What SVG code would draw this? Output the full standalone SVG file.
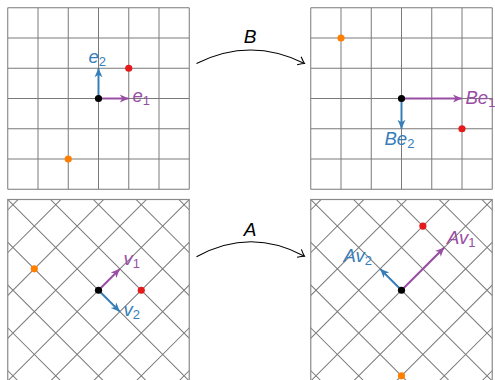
<svg xmlns="http://www.w3.org/2000/svg" width="495" height="380" viewBox="0 0 495 380">
<style>
.grid{fill:none;stroke:#7a7a7a;stroke-width:1}
.frame{fill:none;stroke:#8a8a8a;stroke-width:1.2}
.lbl{font-family:"Liberation Sans","DejaVu Sans",sans-serif;font-style:italic;font-size:18.5px}
.sub{font-size:13px;font-style:normal}
.map{font-family:"Liberation Sans","DejaVu Sans",sans-serif;font-style:italic;font-size:19px;fill:#000}
.pur{fill:#984ea3}.blu{fill:#377eb8}
.vp{stroke:#984ea3;stroke-width:2;fill:none}
.vb{stroke:#377eb8;stroke-width:2;fill:none}
.conn{stroke:#000;stroke-width:1.1;fill:none}
</style>
<defs>
<marker id="hp" markerUnits="userSpaceOnUse" markerWidth="12" markerHeight="12" viewBox="-10 -6 12 12" refX="0" refY="0" orient="auto"><path d="M0,0 L-9,-4 L-6.5,0 L-9,4 Z" fill="#984ea3"/></marker>
<marker id="hb" markerUnits="userSpaceOnUse" markerWidth="12" markerHeight="12" viewBox="-10 -6 12 12" refX="0" refY="0" orient="auto"><path d="M0,0 L-9,-4 L-6.5,0 L-9,4 Z" fill="#377eb8"/></marker>
<marker id="ht" markerUnits="userSpaceOnUse" markerWidth="12" markerHeight="12" viewBox="-8 -6 10 12" refX="0" refY="0" orient="auto"><path d="M-6,-4.5 Q-2,-1 0,0 Q-2,1 -6,4.5" fill="none" stroke="#000" stroke-width="1.1"/></marker>
<clipPath id="cbl"><rect x="7.75" y="199.5" width="181.5" height="181.5"/></clipPath>
<clipPath id="cbr"><rect x="310.75" y="199.5" width="181.5" height="181.5"/></clipPath>
</defs>

<g id="panel-e">
<path class="grid" d="M7.75,7.75V189.25M38,7.75V189.25M68.25,7.75V189.25M98.5,7.75V189.25M128.75,7.75V189.25M159,7.75V189.25M189.25,7.75V189.25M7.75,7.75H189.25M7.75,38H189.25M7.75,68.25H189.25M7.75,98.5H189.25M7.75,128.75H189.25M7.75,159H189.25M7.75,189.25H189.25"/>
<line class="vp" x1="98.5" y1="98.5" x2="128.75" y2="98.5" marker-end="url(#hp)"/>
<line class="vb" x1="98.5" y1="98.5" x2="98.5" y2="68.25" marker-end="url(#hb)"/>
<circle cx="128.75" cy="68.25" r="3.6" fill="#e41a1c"/>
<circle cx="68.25" cy="159" r="3.6" fill="#ff7f00"/>
<circle cx="98.5" cy="98.5" r="3.6" fill="#000"/>
<text class="lbl blu" x="88.5" y="62.5">e<tspan class="sub" dy="3">2</tspan></text>
<text class="lbl pur" x="132.5" y="102">e<tspan class="sub" dy="3">1</tspan></text>
</g>

<g id="panel-Be">
<path class="grid" d="M310.75,7.75V189.25M341,7.75V189.25M371.25,7.75V189.25M401.5,7.75V189.25M431.75,7.75V189.25M462,7.75V189.25M492.25,7.75V189.25M310.75,7.75H492.25M310.75,38H492.25M310.75,68.25H492.25M310.75,98.5H492.25M310.75,128.75H492.25M310.75,159H492.25M310.75,189.25H492.25"/>
<line class="vp" x1="401.5" y1="98.5" x2="462" y2="98.5" marker-end="url(#hp)"/>
<line class="vb" x1="401.5" y1="98.5" x2="401.5" y2="128.75" marker-end="url(#hb)"/>
<circle cx="462" cy="128.75" r="3.6" fill="#e41a1c"/>
<circle cx="341" cy="38" r="3.6" fill="#ff7f00"/>
<circle cx="401.5" cy="98.5" r="3.6" fill="#000"/>
<text class="lbl pur" x="465.5" y="104">Be<tspan class="sub" dy="3">1</tspan></text>
<text class="lbl blu" x="384.5" y="145">Be<tspan class="sub" dy="3">2</tspan></text>
</g>

<g id="panel-v">
<g clip-path="url(#cbl)">
<g transform="rotate(45 98.5 290.25)">
<path class="grid" d="M-52.75,90.25V490.25M-22.5,90.25V490.25M7.75,90.25V490.25M38,90.25V490.25M68.25,90.25V490.25M98.5,90.25V490.25M128.75,90.25V490.25M159,90.25V490.25M189.25,90.25V490.25M219.5,90.25V490.25M249.75,90.25V490.25M-101.5,139H298.5M-101.5,169.25H298.5M-101.5,199.5H298.5M-101.5,229.75H298.5M-101.5,260H298.5M-101.5,290.25H298.5M-101.5,320.5H298.5M-101.5,350.75H298.5M-101.5,381H298.5M-101.5,411.25H298.5M-101.5,441.5H298.5"/>
</g>
</g>
<rect class="frame" x="7.75" y="199.5" width="181.5" height="181.5"/>
<line class="vp" x1="98.5" y1="290.25" x2="119.89" y2="268.86" marker-end="url(#hp)"/>
<line class="vb" x1="98.5" y1="290.25" x2="119.89" y2="311.64" marker-end="url(#hb)"/>
<circle cx="141.28" cy="290.25" r="3.6" fill="#e41a1c"/>
<circle cx="34.33" cy="268.86" r="3.6" fill="#ff7f00"/>
<circle cx="98.5" cy="290.25" r="3.6" fill="#000"/>
<text class="lbl pur" x="123.5" y="265">v<tspan class="sub" dy="3">1</tspan></text>
<text class="lbl blu" x="123.5" y="316">v<tspan class="sub" dy="3">2</tspan></text>
</g>

<g id="panel-Av">
<g clip-path="url(#cbr)">
<g transform="rotate(45 401.5 290.25)">
<path class="grid" d="M250.25,90.25V490.25M280.5,90.25V490.25M310.75,90.25V490.25M341,90.25V490.25M371.25,90.25V490.25M401.5,90.25V490.25M431.75,90.25V490.25M462,90.25V490.25M492.25,90.25V490.25M522.5,90.25V490.25M552.75,90.25V490.25M201.5,139H601.5M201.5,169.25H601.5M201.5,199.5H601.5M201.5,229.75H601.5M201.5,260H601.5M201.5,290.25H601.5M201.5,320.5H601.5M201.5,350.75H601.5M201.5,381H601.5M201.5,411.25H601.5M201.5,441.5H601.5"/>
</g>
</g>
<rect class="frame" x="310.75" y="199.5" width="181.5" height="181.5"/>
<line class="vp" x1="401.5" y1="290.25" x2="444.28" y2="247.47" marker-end="url(#hp)"/>
<line class="vb" x1="401.5" y1="290.25" x2="380.11" y2="268.86" marker-end="url(#hb)"/>
<circle cx="422.89" cy="226.08" r="3.6" fill="#e41a1c"/>
<circle cx="401.5" cy="375.81" r="3.6" fill="#ff7f00"/>
<circle cx="401.5" cy="290.25" r="3.6" fill="#000"/>
<text class="lbl pur" x="447" y="244">Av<tspan class="sub" dy="3">1</tspan></text>
<text class="lbl blu" x="343.5" y="261.5">Av<tspan class="sub" dy="3">2</tspan></text>
</g>

<g id="connectors">
<path class="conn" d="M196.5,63.5 Q250.5,36.5 304.5,63.5" marker-end="url(#ht)"/>
<text class="map" x="250" y="43" text-anchor="middle">B</text>
<path class="conn" d="M196.5,256.7 Q250.5,227 304.5,256.2" marker-end="url(#ht)"/>
<text class="map" x="250" y="236" text-anchor="middle">A</text>
</g>
</svg>
